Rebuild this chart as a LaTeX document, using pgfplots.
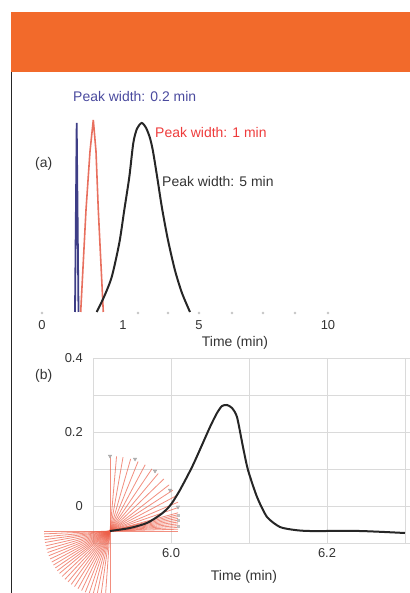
\documentclass[border=0pt]{standalone}
\usepackage{fontspec}
\setmainfont{Liberation Sans}
\usepackage{pgfplots}
\pgfplotsset{compat=1.18}

\definecolor{bandorange}{HTML}{F26A2B}
\definecolor{bluetext}{HTML}{4A4A9E}
\definecolor{redtext}{HTML}{EE3B3B}
\definecolor{blueline}{HTML}{3E3E86}
\definecolor{redline}{HTML}{E8705F}
\definecolor{fanred}{HTML}{EC5E48}
\definecolor{gridgray}{HTML}{DADADA}
\definecolor{dotgray}{HTML}{C4C4C4}

\newcommand{\lbl}{\fontsize{14}{16}\selectfont}
\newcommand{\tck}{\fontsize{13}{15}\selectfont}

\begin{document}
\begin{tikzpicture}
\useasboundingbox (0,0) rectangle (410bp,593bp);
% header band and left rule
\fill[bandorange] (11bp,521bp) rectangle (410bp,581bp);
\draw[line width=1.3bp, black!85] (11.7bp,0) -- (11.7bp,521bp);

% ---------- panel (a) ----------
\begin{axis}[
  at={(30bp,281bp)}, anchor=south west,
  scale only axis, width=320bp, height=222bp,
  xmin=30, xmax=350, ymin=0, ymax=1.1746,
  axis line style={draw=none}, tick style={draw=none},
  ytick=\empty,
  xtick={42,123,199,328}, xticklabels={0,1,5,10},
  xticklabel style={font=\tck, text=black!80, anchor=center, yshift=-13bp},
  clip=false,
]
\addplot[only marks, mark=*, mark size=1.1bp, dotgray] coordinates {
  (42,-0.005) (138,-0.005) (168,-0.005) (199,-0.005) (232,-0.005)
  (263,-0.005) (295,-0.005) (328,-0.005)};
\addplot[blueline, line width=1.8bp] coordinates {
  (75,0) (76.7,1.0) (78.5,0)};
\addplot[redline, line width=1.6bp] coordinates {
  (80.7,0) (86,0.54) (90,0.85) (93.3,1.016) (96,0.85) (98.3,0.54) (103.3,0)};
\addplot[black!85, line width=2bp, smooth, tension=0.45] coordinates {
  (96.7,0) (104,0.08) (111.7,0.185) (119.3,0.365) (124.3,0.54) (129.3,0.714)
  (133.3,0.894) (137,0.97) (141.7,1.0) (146,0.975) (150,0.92) (153,0.85)
  (157,0.72) (162,0.55) (168,0.38) (175,0.22) (182,0.1) (190,0)};
\node[anchor=west, inner sep=0, text=bluetext, font=\lbl] at (axis cs:73,1.138) {Peak width: 0.2 min};
\node[anchor=west, inner sep=0, text=redtext, font=\lbl] at (axis cs:155,0.952) {Peak width: 1 min};
\node[anchor=west, inner sep=0, text=black!80, font=\lbl] at (axis cs:162,0.693) {Peak width: 5 min};
\node[anchor=west, inner sep=0, text=black!80, font=\lbl] at (axis cs:35,0.783) {(a)};
\node[inner sep=0, text=black!80, font=\lbl] at (axis cs:235,-0.164) {Time (min)};
\end{axis}

% ---------- panel (b) ----------
\begin{axis}[
  at={(93bp,50bp)}, anchor=south west,
  scale only axis, width=317bp, height=185bp,
  xmin=5.9, xmax=6.3064, ymin=-0.1, ymax=0.4,
  axis line style={draw=none}, tick style={draw=none},
  xtick={6.0,6.2}, xticklabels={6.0,6.2},
  minor xtick={5.9,6.1,6.3},
  ytick={0,0.2,0.4}, yticklabels={0,0.2,0.4},
  minor ytick={-0.1,0.1,0.3},
  grid=both,
  major grid style={draw=gridgray, line width=0.9bp},
  minor grid style={draw=gridgray, line width=0.9bp},
  xticklabel style={font=\tck, text=black!80, anchor=center, yshift=-10bp},
  yticklabel style={font=\tck, text=black!80, anchor=east, inner sep=0, xshift=-10bp},
  clip=false,
]
% red fan of lines from one point
\addplot[fanred, opacity=0.7, line width=0.8bp, no marks,
  quiver={u=\thisrow{u}, v=\thisrow{v}}] table {
x y u v
5.9218 -0.0676 0.0872 0
5.9218 -0.0676 0.0872 0.0048
5.9218 -0.0676 0.0872 0.0096
5.9218 -0.0676 0.0872 0.0145
5.9218 -0.0676 0.0872 0.0193
5.9218 -0.0676 0.0872 0.0242
5.9218 -0.0676 0.0872 0.0291
5.9218 -0.0676 0.0872 0.0341
5.9218 -0.0676 0.0872 0.0391
5.9218 -0.0676 0.0872 0.0441
5.9218 -0.0676 0.0872 0.0492
5.9218 -0.0676 0.0872 0.0633
5.9218 -0.0676 0.0872 0.0780
5.9218 -0.0676 0.0849 0.0952
5.9218 -0.0676 0.0806 0.1104
5.9218 -0.0676 0.0758 0.1248
5.9218 -0.0676 0.0691 0.1408
5.9218 -0.0676 0.0618 0.1553
5.9218 -0.0676 0.0538 0.1681
5.9218 -0.0676 0.0451 0.1790
5.9218 -0.0676 0.0360 0.1879
5.9218 -0.0676 0.0265 0.1949
5.9218 -0.0676 0.0167 0.1996
5.9218 -0.0676 0.0084 0.2019
5.9218 -0.0676 0 0.2027
5.9218 -0.0676 -0.0846 0
5.9218 -0.0676 -0.0845 -0.0078
5.9218 -0.0676 -0.0843 -0.0155
5.9218 -0.0676 -0.0839 -0.0233
5.9218 -0.0676 -0.0833 -0.0310
5.9218 -0.0676 -0.0824 -0.0401
5.9218 -0.0676 -0.0813 -0.0492
5.9218 -0.0676 -0.0800 -0.0581
5.9218 -0.0676 -0.0785 -0.0668
5.9218 -0.0676 -0.0767 -0.0754
5.9218 -0.0676 -0.0747 -0.0838
5.9218 -0.0676 -0.0725 -0.0919
5.9218 -0.0676 -0.0701 -0.0997
5.9218 -0.0676 -0.0676 -0.1074
5.9218 -0.0676 -0.0648 -0.1146
5.9218 -0.0676 -0.0614 -0.1228
5.9218 -0.0676 -0.0577 -0.1305
5.9218 -0.0676 -0.0538 -0.1376
5.9218 -0.0676 -0.0497 -0.1443
5.9218 -0.0676 -0.0455 -0.1504
5.9218 -0.0676 -0.0410 -0.1560
5.9218 -0.0676 -0.0364 -0.1610
5.9218 -0.0676 -0.0317 -0.1654
5.9218 -0.0676 -0.0268 -0.1692
5.9218 -0.0676 -0.0219 -0.1724
5.9218 -0.0676 -0.0169 -0.1748
5.9218 -0.0676 -0.0118 -0.1767
5.9218 -0.0676 -0.0059 -0.1779
5.9218 -0.0676 0 -0.1784
};
\addplot[only marks, mark=triangle*, mark size=2bp,
  mark options={rotate=180, fill=gray!60, draw=gray!70}] coordinates {
  (5.9218,0.1351) (5.9539,0.1270) (5.9795,0.0946) (5.9987,0.0432) (6.0090,-0.0027)};
\addplot[only marks, mark=square*, mark size=1.2bp,
  mark options={fill=gray!45, draw=gray!50}] coordinates {
  (6.0090,-0.0243) (6.0090,-0.0378) (6.0090,-0.0541)};
% chromatogram trace
\addplot[black!85, line width=2bp, smooth, tension=0.4] coordinates {
  (5.9218,-0.0676) (5.9474,-0.0595) (5.9692,-0.0459) (5.9859,-0.0243)
  (5.9949,-0.0081) (6.0013,0.0081) (6.0115,0.0432) (6.0282,0.1108)
  (6.0500,0.2135) (6.0590,0.2514) (6.0654,0.2703) (6.0718,0.2730)
  (6.0782,0.2649) (6.0846,0.2405) (6.0923,0.1595) (6.0987,0.0973)
  (6.1103,0.0243) (6.1231,-0.0297) (6.1397,-0.0568) (6.1590,-0.0649)
  (6.1782,-0.0676) (6.2423,-0.0676) (6.3000,-0.0730)};
\node[anchor=west, inner sep=0, text=black!80, font=\lbl] at (axis cs:5.8256,0.351) {(b)};
\node[inner sep=0, text=black!80, font=\lbl] at (axis cs:6.0936,-0.192) {Time (min)};
\end{axis}
\end{tikzpicture}
\end{document}
